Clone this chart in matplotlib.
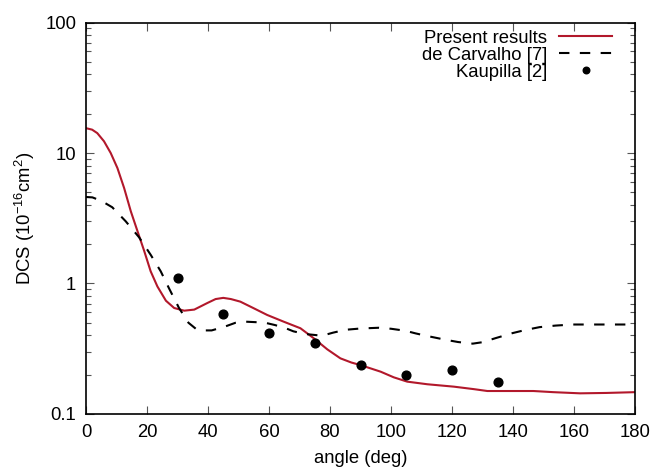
import numpy as np
import matplotlib
matplotlib.use('Agg')
import matplotlib.pyplot as plt
from matplotlib.ticker import LogLocator, NullFormatter, FixedLocator

plt.rcParams['font.family'] = ['Liberation Sans', 'DejaVu Sans']
plt.rcParams['mathtext.fontset'] = 'custom'
plt.rcParams['mathtext.rm'] = 'Liberation Sans'

# Present results (red solid)
present_angle = [0, 2, 3.7, 5.9, 8.1, 10.3, 12.5, 14.7, 16.9, 19.1, 21.2, 23.4, 26.2, 28.9, 32.2, 35.5, 39.8, 42.5, 45,
                 47.5, 50.6, 55, 59.4, 64.8, 70.3, 74.7, 79.1, 83.4, 87, 90, 96.6, 100.9, 105.3, 111.9, 120.6, 127.2,
                 131.6, 140, 146.7, 153.2, 162, 170.7, 180]
present_dcs = [15.5, 15.1, 14.2, 12.3, 10.0, 7.67, 5.39, 3.57, 2.51, 1.77, 1.24, 0.95, 0.738, 0.649, 0.619, 0.631,
               0.709, 0.76, 0.776, 0.76, 0.726, 0.646, 0.574, 0.51, 0.454, 0.38, 0.313, 0.267, 0.248, 0.237, 0.211,
               0.191, 0.177, 0.169, 0.162, 0.155, 0.150, 0.150, 0.150, 0.147, 0.144, 0.145, 0.147]

# de Carvalho [7] (black dashed)
carvalho_angle = [0, 2.1, 5, 8.6, 13, 17.4, 21.2, 24.5, 27.2, 30.5, 33.6, 36, 38, 41.2, 45.6, 49, 52.2, 56, 58.8, 62,
                  65.4, 68, 71.9, 77.4, 81, 85.1, 90, 96, 100, 104.8, 108, 111.4, 118, 122, 126.8, 130, 134.4, 139.9,
                  144, 148.7, 154, 159.7, 170, 180]
carvalho_dcs = [4.6, 4.57, 4.3, 3.84, 3.0, 2.26, 1.66, 1.24, 0.92, 0.649, 0.50, 0.45, 0.437, 0.437, 0.468, 0.50, 0.51,
                0.505, 0.50, 0.48, 0.455, 0.43, 0.41, 0.398, 0.42, 0.442, 0.452, 0.458, 0.45, 0.434, 0.415, 0.398,
                0.37, 0.356, 0.346, 0.355, 0.382, 0.417, 0.44, 0.463, 0.476, 0.485, 0.485, 0.485]

# Kaupilla [2] (points)
kaup_angle = [30, 45, 60, 75, 90, 105, 120, 135]
kaup_dcs = [1.11, 0.58, 0.42, 0.35, 0.237, 0.199, 0.216, 0.177]

fs = 13.3

fig = plt.figure(figsize=(6.56, 4.68), dpi=100)
ax = fig.add_axes([0.1311, 0.1154, 0.8369, 0.8365])

ax.plot(present_angle, present_dcs, color='#b2182b', lw=1.5, label='Present results')
ax.plot(carvalho_angle, carvalho_dcs, color='black', lw=1.5, dashes=(5, 5), label='de Carvalho [7]')
ax.plot(kaup_angle, kaup_dcs, 'o', color='black', ms=6.3, label='Kaupilla [2]')

ax.set_yscale('log')
ax.set_xlim(0, 180)
ax.set_ylim(0.1, 100)
ax.set_xticks(range(0, 181, 20))
ax.yaxis.set_major_locator(FixedLocator([0.1, 1, 10, 100]))
ax.set_yticklabels(['0.1', '1', '10', '100'])
ax.yaxis.set_minor_locator(LogLocator(base=10, subs=np.arange(2, 10)))
ax.yaxis.set_minor_formatter(NullFormatter())

ax.tick_params(which='both', direction='in', top=True, right=True, labelsize=fs, width=0.8, color='#555555')
ax.tick_params(which='major', length=6, pad=7)
ax.tick_params(which='minor', length=3.5)
for s in ax.spines.values():
    s.set_linewidth(1.2)

ax.set_xlabel('angle (deg)', fontsize=fs, labelpad=7)
ax.set_ylabel(r'DCS (10$^{-16}$cm$^2$)', fontsize=fs, labelpad=6)

ax.legend(loc='upper right', bbox_to_anchor=(0.9716, 1.0), frameon=False, markerfirst=False, fontsize=fs,
          handlelength=2.85, handletextpad=0.65, labelspacing=0.0, borderaxespad=0.0, markerscale=0.75)

fig.savefig('out.png', dpi=100)
